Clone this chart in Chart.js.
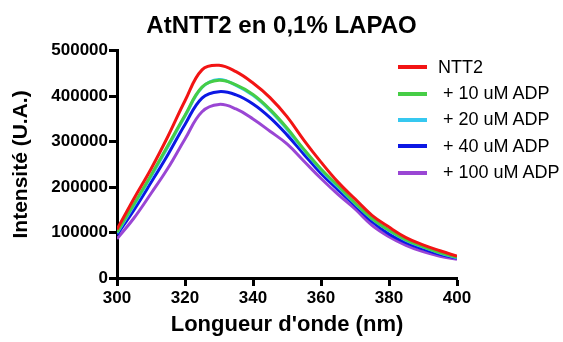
<!DOCTYPE html>
<html>
<head>
<meta charset="utf-8">
<script src="https://cdn.jsdelivr.net/npm/chart.js@4.4.1/dist/chart.umd.min.js"></script>
<style>
  body { margin: 0; background: #fff; }
  #wrap { position: relative; width: 563px; height: 342px; }
  #legend { position: absolute; left: 398px; top: 54px; font: 18px "Liberation Sans", Arial, sans-serif; color: #000; }
  .item { height: 26.4px; display: flex; align-items: center; white-space: pre; }
  .swatch { width: 29px; height: 4px; margin-right: 11px; }
</style>
</head>
<body>
<div id="wrap">
  <canvas id="chart" width="563" height="342"></canvas>
  <div id="legend"></div>
</div>
<script>
// Wavelengths (nm)
const wavelengths = [300, 305, 310, 315, 320, 325, 330, 335, 340, 345, 350, 355, 360, 365, 370, 375, 380, 385, 390, 395, 400];

// Fluorescence intensity (U.A.)
const ntt2   = [107000, 175000, 240000, 312000, 390000, 458000, 468000, 454000, 429000, 397000, 355000, 303000, 255000, 211000, 174000, 138000, 112000, 89000, 73000, 60000, 48000];
const adp10  = [101000, 163000, 226000, 292000, 358000, 420000, 435000, 425000, 404000, 371000, 330000, 283000, 240000, 203000, 165000, 131000, 105000, 84000, 69000, 56000, 46000];
const adp20  = [99000, 160000, 223000, 289000, 356000, 419000, 437000, 424000, 402000, 369000, 327000, 281000, 238000, 201000, 164000, 130000, 104000, 83000, 68000, 55000, 45000];
const adp40  = [95000, 150000, 210000, 272000, 338000, 396000, 410000, 403000, 383000, 353000, 315000, 272000, 230000, 194000, 160000, 124000, 97000, 78000, 64000, 52000, 44000];
const adp100 = [86000, 132000, 186000, 242000, 306000, 366000, 382000, 372000, 350000, 323000, 295000, 257000, 219000, 184000, 152000, 116000, 91000, 72000, 58000, 48000, 41000];

const seriesLabels = ["NTT2", " + 10 uM ADP", " + 20 uM ADP", " + 40 uM ADP", " + 100 uM ADP"];
const seriesColors = ["#f21414", "#46cd46", "#36c8f0", "#0c18e4", "#9a46d4"];
const seriesValues = [ntt2, adp10, adp20, adp40, adp100];

const yTicks = [0, 100000, 200000, 300000, 400000, 500000];

const FONT = '"Liberation Sans", Arial, Helvetica, sans-serif';

// build datasets
const datasets = seriesValues.map((vals, i) => ({
  label: seriesLabels[i],
  data: vals.map((v, j) => ({ x: wavelengths[j], y: v })),
  borderColor: seriesColors[i],
  borderWidth: 3,
  pointRadius: 0,
  tension: 0.4,
  fill: false
}));

const axisGrid = { display: true, drawOnChartArea: false, drawTicks: true, tickLength: 8, tickWidth: 3, tickColor: "#000" };
const axisBorder = { display: true, color: "#000", width: 3 };

new Chart(document.getElementById("chart"), {
  type: "line",
  data: { datasets: datasets },
  options: {
    responsive: false,
    animation: false,
    layout: { padding: 0 },
    plugins: {
      legend: { display: false },
      tooltip: { enabled: false },
      title: {
        display: true,
        text: "AtNTT2 en 0,1% LAPAO",
        color: "#000",
        font: { family: FONT, size: 24, weight: "bold" },
        padding: { top: 12, bottom: 10 }
      }
    },
    scales: {
      x: {
        type: "linear",
        min: 300,
        max: 400,
        grid: axisGrid,
        border: axisBorder,
        ticks: { stepSize: 20, color: "#000", padding: 2, font: { family: FONT, size: 17, weight: "bold" } },
        title: {
          display: true,
          text: "Longueur d'onde (nm)",
          color: "#000",
          font: { family: FONT, size: 22, weight: "bold" },
          padding: { top: 0, bottom: 4 }
        },
        afterFit: function (scale) { scale.height = 64; }
      },
      y: {
        min: 0,
        max: 500000,
        grid: axisGrid,
        border: axisBorder,
        afterBuildTicks: function (scale) { scale.ticks = yTicks.map(v => ({ value: v })); },
        ticks: {
          color: "#000",
          padding: 1,
          font: { family: FONT, size: 17, weight: "bold" },
          callback: function (v) { return String(v); }
        },
        title: {
          display: true,
          text: "Intensité (U.A.)",
          color: "#000",
          font: { family: FONT, size: 21, weight: "bold" },
          padding: { top: 9, bottom: 0 }
        },
        afterFit: function (scale) { scale.width = 117; }
      },
      // empty right-hand axis that only reserves the space used by the legend
      yRight: {
        position: "right",
        min: 0,
        max: 500000,
        grid: { display: false },
        border: { display: false },
        ticks: { display: false },
        afterFit: function (scale) { scale.width = 106; }
      }
    }
  }
});

// Legend overlaid on the right side of the plot
const legend = document.getElementById("legend");
seriesLabels.forEach((label, i) => {
  const item = document.createElement("div");
  item.className = "item";
  item.innerHTML = '<span class="swatch" style="background:' + seriesColors[i] + '"></span><span>' + label + '</span>';
  legend.appendChild(item);
});
</script>
</body>
</html>
